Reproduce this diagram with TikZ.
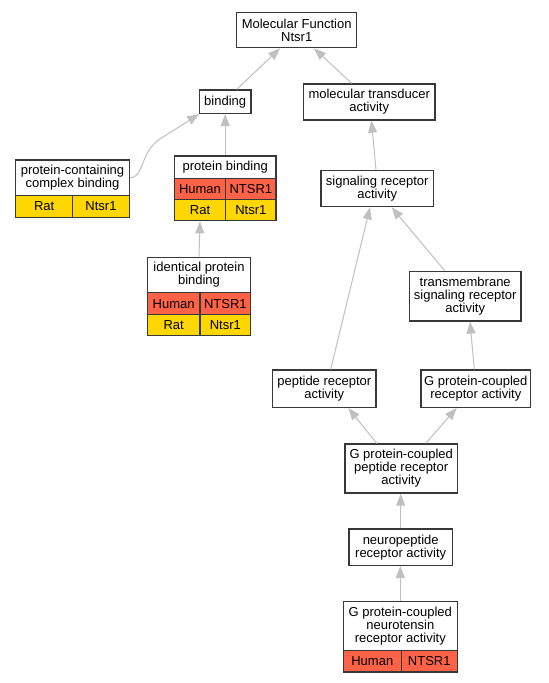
\documentclass[tikz,border=0pt]{standalone}
\usepackage{fontspec}
\setmainfont{Liberation Sans}
\usetikzlibrary{arrows.meta}
\definecolor{bordc}{HTML}{383838}
\definecolor{edgec}{HTML}{C0C0C0}
\definecolor{humanc}{HTML}{FF6347}
\definecolor{ratc}{HTML}{FFD700}
\begin{document}
\begin{tikzpicture}[x=1pt,y=-1pt,
  box/.style={draw=bordc, line width=1.3pt, fill=white, inner sep=0pt, align=center,
    font=\fontsize{13}{13}\selectfont},
  hum/.style={box, fill=humanc},
  rat/.style={box, fill=ratc},
  edge/.style={draw=edgec, line width=1pt, -{Triangle[length=12pt,width=9pt,fill=edgec]}}]
\useasboundingbox[fill=white] (0,0) rectangle (549,683);

% plain boxes
\node[box, minimum width=120pt, minimum height=35pt] (mf) at (296.7,30.2) {Molecular Function\\Ntsr1};
\node[box, minimum width=51.7pt, minimum height=23.3pt] (bind) at (225.2,101.7) {binding};
\node[box, minimum width=131.7pt, minimum height=36pt] (mt) at (369.2,102) {molecular transducer\\activity};
\node[box, minimum width=113.6pt, minimum height=35.7pt] (pccb) at (72.5,177.9) {protein-containing\\complex binding};
\node[box, minimum width=101.7pt, minimum height=22.7pt] (pb) at (225.2,167.3) {protein binding};
\node[box, minimum width=112.3pt, minimum height=36pt] (sra) at (377.2,188.7) {signaling receptor\\activity};
\node[box, minimum width=103.4pt, minimum height=35.4pt] (ipb) at (199,275) {identical protein\\binding};
\node[box, minimum width=111.7pt, minimum height=49.3pt] (tm) at (465.2,296.3) {transmembrane\\signaling receptor\\activity};
\node[box, minimum width=103.3pt, minimum height=37.3pt] (pr) at (324.3,388.7) {peptide receptor\\activity};
\node[box, minimum width=109.7pt, minimum height=37.3pt] (gpcr) at (475.8,388.7) {G protein-coupled\\receptor activity};
\node[box, minimum width=112.3pt, minimum height=49pt] (gpcpr) at (401.2,468.5) {G protein-coupled\\peptide receptor\\activity};
\node[box, minimum width=103.3pt, minimum height=36.3pt] (np) at (400.7,547.2) {neuropeptide\\receptor activity};
\node[box, minimum width=114pt, minimum height=49.4pt] (gpcnra) at (400.3,626) {G protein-coupled\\neurotensin\\receptor activity};

% table rows
\node[rat, minimum width=57pt, minimum height=21.6pt] (pccbR1) at (44.2,206.5) {Rat};
\node[rat, minimum width=56.6pt, minimum height=21.6pt] (pccbR2) at (101,206.5) {Ntsr1};

\node[hum, minimum width=51.4pt, minimum height=21pt] (pbH1) at (200,189.2) {Human};
\node[hum, minimum width=50.3pt, minimum height=21pt] (pbH2) at (250.85,189.2) {NTSR1};
\node[rat, minimum width=51.4pt, minimum height=21pt] (pbR1) at (200,210.2) {Rat};
\node[rat, minimum width=50.3pt, minimum height=21pt] (pbR2) at (250.85,210.2) {Ntsr1};

\node[hum, minimum width=52.7pt, minimum height=22pt] (ipbH1) at (173.65,303.7) {Human};
\node[hum, minimum width=50.7pt, minimum height=22pt] (ipbH2) at (225.35,303.7) {NTSR1};
\node[rat, minimum width=52.7pt, minimum height=21pt] (ipbR1) at (173.65,325.2) {Rat};
\node[rat, minimum width=50.7pt, minimum height=21pt] (ipbR2) at (225.35,325.2) {Ntsr1};

\node[hum, minimum width=58pt, minimum height=21.3pt] (gpcnraH1) at (372.3,661.35) {Human};
\node[hum, minimum width=56pt, minimum height=21.3pt] (gpcnraH2) at (429.3,661.35) {NTSR1};

% edges
\draw[edge] ([xshift=11.5pt]bind.north) -- ([xshift=-16.7pt]mf.south);
\draw[edge] ([xshift=-17.5pt]mt.north) -- ([xshift=17.3pt]mf.south);
\draw[edge] (pccb.east) .. controls ([xshift=14pt]pccb.east) and (140,152.1) .. (160,139) -- ([xshift=-26pt]bind.south);
\draw[edge] (pb.north) -- (bind.south);
\draw[edge] (ipb.north) -- (pbR1.south);
\draw[edge] ([xshift=-1.2pt]sra.north) -- ([xshift=2.3pt]mt.south);
\draw[edge] ([xshift=6.4pt]pr.north) -- ([xshift=-7.2pt]sra.south);
\draw[edge] ([xshift=-20.2pt]tm.north) -- ([xshift=14.5pt]sra.south);
\draw[edge] ([xshift=-1.5pt]gpcr.north) -- ([xshift=4.8pt]tm.south);
\draw[edge] ([xshift=-24.5pt]gpcpr.north) -- ([xshift=24pt]pr.south);
\draw[edge] ([xshift=24.5pt]gpcpr.north) -- ([xshift=-19.1pt]gpcr.south);
\draw[edge] (np.north) -- (np.north |- gpcpr.south);
\draw[edge] (gpcnra.north) -- (gpcnra.north |- np.south);
\end{tikzpicture}
\end{document}
